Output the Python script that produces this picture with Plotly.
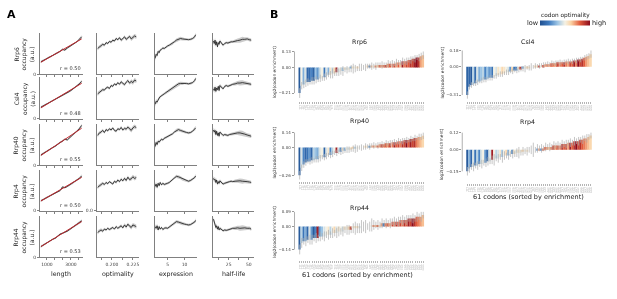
import numpy as np
import plotly.graph_objects as go

W, H = 617, 299
FONT = "DejaVu Sans"

# ---------------- Panel A data ----------------
PROTEINS = ["Rrp6", "Csl4", "Rrp40", "Rrp4", "Rrp44"]
R_VALUES = ["0.50", "0.48", "0.55", "0.50", "0.53"]
FEATURES = ["length", "optimality", "expression", "half-life"]

LENGTH_X = [500, 700, 900, 1100, 1300, 1500, 1700, 1900, 2100, 2300, 2500, 2700, 2900, 3100, 3300, 3500, 3700, 3900]
LEN_RRP6 = [0.30, 0.33, 0.36, 0.40, 0.42, 0.45, 0.49, 0.52, 0.55, 0.60, 0.58, 0.63, 0.67, 0.69, 0.74, 0.78, 0.84, 0.90]
LEN_CSL4 = [0.28, 0.31, 0.35, 0.37, 0.41, 0.44, 0.47, 0.49, 0.53, 0.56, 0.60, 0.62, 0.66, 0.70, 0.74, 0.79, 0.84, 0.90]
LEN_RRP40 = [0.25, 0.29, 0.33, 0.35, 0.40, 0.43, 0.46, 0.51, 0.55, 0.58, 0.63, 0.61, 0.66, 0.72, 0.76, 0.81, 0.88, 0.96]
LEN_RRP4 = [0.25, 0.28, 0.32, 0.35, 0.38, 0.41, 0.45, 0.47, 0.50, 0.59, 0.57, 0.60, 0.64, 0.67, 0.71, 0.76, 0.80, 0.86]
LEN_RRP44 = [0.26, 0.30, 0.33, 0.37, 0.41, 0.44, 0.46, 0.51, 0.56, 0.58, 0.60, 0.63, 0.67, 0.71, 0.75, 0.80, 0.84, 0.88]
LEN_ERR = [0.03, 0.02, 0.02, 0.02, 0.02, 0.02, 0.02, 0.02, 0.02, 0.02, 0.02, 0.02, 0.02, 0.02, 0.02, 0.02, 0.03, 0.04]

OPT_X = [0.183, 0.185, 0.187, 0.189, 0.191, 0.193, 0.195, 0.197, 0.199, 0.201, 0.203, 0.205,
         0.207, 0.209, 0.211, 0.213, 0.215, 0.217, 0.219, 0.221, 0.223, 0.225, 0.227, 0.229]
OPT_RRP6 = [0.62, 0.66, 0.68, 0.72, 0.70, 0.76, 0.74, 0.79, 0.77, 0.82, 0.80, 0.86, 0.83, 0.88, 0.82, 0.85, 0.90, 0.84, 0.87, 0.91, 0.85, 0.88, 0.92, 0.90]
OPT_CSL4 = [0.60, 0.64, 0.67, 0.70, 0.69, 0.74, 0.76, 0.73, 0.80, 0.78, 0.84, 0.81, 0.87, 0.83, 0.89, 0.85, 0.82, 0.88, 0.92, 0.86, 0.90, 0.87, 0.93, 0.91]
OPT_RRP40 = [0.72, 0.78, 0.80, 0.84, 0.79, 0.86, 0.83, 0.88, 0.85, 0.90, 0.84, 0.82, 0.88, 0.86, 0.91, 0.85, 0.89, 0.87, 0.92, 0.88, 0.84, 0.90, 0.93, 0.91]
OPT_RRP4 = [0.58, 0.62, 0.64, 0.68, 0.65, 0.70, 0.67, 0.72, 0.69, 0.66, 0.73, 0.70, 0.76, 0.72, 0.78, 0.74, 0.80, 0.75, 0.83, 0.77, 0.79, 0.84, 0.80, 0.82]
OPT_RRP44 = [0.60, 0.64, 0.66, 0.63, 0.68, 0.66, 0.70, 0.67, 0.69, 0.72, 0.68, 0.74, 0.70, 0.73, 0.76, 0.71, 0.78, 0.73, 0.80, 0.75, 0.72, 0.78, 0.76, 0.74]
OPT_ERR = [0.05, 0.04, 0.04, 0.04, 0.03, 0.03, 0.03, 0.03, 0.03, 0.03, 0.03, 0.03, 0.03, 0.03, 0.04, 0.03, 0.04, 0.04, 0.04, 0.04, 0.05, 0.05, 0.05, 0.05]

EXPR_X = [1.3, 1.6, 1.9, 2.2, 2.5, 2.8, 3.2, 3.6, 4.0, 4.5, 5.0, 5.5, 6.0, 6.5, 7.0, 7.6, 8.2, 8.8, 9.4, 10.0, 10.6, 11.2, 11.8, 12.4, 13.0, 13.3]
EXPR_RRP6 = [0.38, 0.48, 0.45, 0.55, 0.52, 0.58, 0.60, 0.63, 0.62, 0.66, 0.68, 0.70, 0.72, 0.74, 0.78, 0.82, 0.85, 0.86, 0.85, 0.84, 0.84, 0.83, 0.84, 0.86, 0.90, 0.95]
EXPR_CSL4 = [0.35, 0.42, 0.40, 0.48, 0.50, 0.53, 0.56, 0.58, 0.60, 0.63, 0.66, 0.68, 0.70, 0.73, 0.76, 0.80, 0.84, 0.85, 0.85, 0.86, 0.85, 0.84, 0.85, 0.87, 0.92, 0.97]
EXPR_RRP40 = [0.45, 0.55, 0.50, 0.58, 0.56, 0.60, 0.63, 0.61, 0.65, 0.67, 0.69, 0.71, 0.73, 0.76, 0.80, 0.84, 0.86, 0.84, 0.82, 0.80, 0.79, 0.78, 0.79, 0.82, 0.86, 0.90]
EXPR_RRP4 = [0.60, 0.66, 0.58, 0.68, 0.62, 0.70, 0.64, 0.68, 0.65, 0.66, 0.68, 0.70, 0.74, 0.78, 0.82, 0.85, 0.84, 0.82, 0.78, 0.76, 0.74, 0.73, 0.75, 0.78, 0.82, 0.86]
EXPR_RRP44 = [0.74, 0.70, 0.76, 0.66, 0.74, 0.68, 0.72, 0.67, 0.70, 0.71, 0.70, 0.73, 0.75, 0.79, 0.83, 0.86, 0.85, 0.83, 0.81, 0.80, 0.79, 0.78, 0.79, 0.82, 0.85, 0.89]
EXPR_ERR = [0.06, 0.05, 0.05, 0.04, 0.04, 0.03, 0.03, 0.03, 0.03, 0.03, 0.03, 0.03, 0.03, 0.03, 0.03, 0.04, 0.04, 0.04, 0.04, 0.03, 0.03, 0.03, 0.03, 0.03, 0.04, 0.05]

HL_X = [6, 7, 8, 9, 10, 11, 12, 13, 14, 16, 18, 20, 22, 24, 26, 28, 30, 33, 36, 39, 42, 45, 48, 51, 53]
HL_RRP6 = [0.80, 0.74, 0.82, 0.70, 0.78, 0.66, 0.76, 0.72, 0.80, 0.74, 0.70, 0.74, 0.76, 0.75, 0.77, 0.78, 0.78, 0.80, 0.81, 0.82, 0.84, 0.84, 0.85, 0.83, 0.82]
HL_CSL4 = [0.72, 0.68, 0.76, 0.66, 0.74, 0.70, 0.78, 0.68, 0.80, 0.76, 0.72, 0.78, 0.80, 0.78, 0.80, 0.82, 0.83, 0.84, 0.86, 0.86, 0.87, 0.86, 0.85, 0.84, 0.83]
HL_RRP40 = [0.85, 0.80, 0.84, 0.74, 0.82, 0.72, 0.78, 0.70, 0.80, 0.75, 0.72, 0.74, 0.73, 0.72, 0.74, 0.75, 0.76, 0.77, 0.78, 0.78, 0.77, 0.75, 0.73, 0.72, 0.70]
HL_RRP4 = [0.80, 0.76, 0.78, 0.70, 0.76, 0.66, 0.72, 0.68, 0.74, 0.70, 0.66, 0.68, 0.70, 0.71, 0.72, 0.73, 0.72, 0.73, 0.74, 0.74, 0.73, 0.73, 0.72, 0.71, 0.70]
HL_RRP44 = [0.92, 0.84, 0.80, 0.72, 0.76, 0.68, 0.74, 0.66, 0.70, 0.68, 0.64, 0.66, 0.65, 0.66, 0.68, 0.69, 0.70, 0.70, 0.71, 0.70, 0.71, 0.71, 0.70, 0.70, 0.68]
HL_ERR = [0.06, 0.06, 0.05, 0.05, 0.05, 0.04, 0.04, 0.04, 0.04, 0.03, 0.03, 0.03, 0.03, 0.03, 0.03, 0.03, 0.03, 0.04, 0.05, 0.06, 0.06, 0.05, 0.04, 0.04, 0.04]

# ---------------- Panel B data ----------------
CODONS = ["TTT", "TTC", "TTA", "TTG", "CTT", "CTC", "CTA", "CTG", "ATT", "ATC", "ATA", "ATG", "GTT", "GTC", "GTA", "GTG",
          "TCT", "TCC", "TCA", "TCG", "CCT", "CCC", "CCA", "CCG", "ACT", "ACC", "ACA", "ACG", "GCT", "GCC", "GCA", "GCG",
          "TAT", "TAC", "CAT", "CAC", "CAA", "CAG", "AAT", "AAC", "AAA", "AAG", "GAT", "GAC", "GAA", "GAG",
          "TGT", "TGC", "TGG", "CGT", "CGC", "CGA", "CGG", "AGT", "AGC", "AGA", "AGG", "GGT", "GGC", "GGA", "GGG"]

ENR_RRP6 = [-0.21, -0.15, -0.14, -0.13, -0.12, -0.12, -0.11, -0.11, -0.10, -0.10,
            -0.09, -0.09, -0.08, -0.07, -0.06, -0.06, -0.05, -0.05, -0.04, -0.04,
            -0.03, -0.03, -0.02, -0.02, -0.02, -0.01, -0.01, -0.01, -0.01, 0.00,
            0.00, 0.00, 0.00, 0.01, 0.01, 0.01, 0.01, 0.01, 0.02, 0.02,
            0.02, 0.02, 0.02, 0.03, 0.03, 0.03, 0.03, 0.04, 0.04, 0.04,
            0.05, 0.05, 0.05, 0.06, 0.06, 0.07, 0.07, 0.08, 0.08, 0.09,
            0.10]
ERR_RRP6 = [0.04, 0.03, 0.03, 0.03, 0.03, 0.02, 0.03, 0.03, 0.03, 0.02,
            0.03, 0.02, 0.03, 0.03, 0.02, 0.03, 0.04, 0.02, 0.03, 0.03,
            0.03, 0.04, 0.02, 0.03, 0.02, 0.03, 0.04, 0.03, 0.02, 0.03,
            0.03, 0.02, 0.03, 0.02, 0.02, 0.03, 0.02, 0.03, 0.02, 0.02,
            0.03, 0.02, 0.02, 0.03, 0.02, 0.03, 0.02, 0.03, 0.02, 0.02,
            0.03, 0.02, 0.03, 0.02, 0.03, 0.02, 0.03, 0.02, 0.03, 0.03,
            0.03]
OPTI_RRP6 = [0.05, 0.50, 0.30, 0.45, 0.10, 0.12, 0.20, 0.08, 0.35, 0.25,
             0.40, 0.50, 0.15, 0.45, 0.30, 0.55, 0.40, 0.60, 0.97, 0.45,
             0.50, 0.35, 0.55, 0.45, 0.50, 0.30, 0.55, 0.50, 0.60, 0.45,
             0.55, 0.20, 0.50, 0.60, 0.15, 0.65, 0.50, 0.75, 0.60, 0.80,
             0.70, 0.75, 0.85, 0.70, 0.80, 0.75, 0.85, 0.70, 0.80, 0.65,
             0.95, 0.75, 0.85, 0.80, 0.90, 0.85, 0.95, 1.00, 0.90, 0.70,
             0.65]
TICKS_RRP6 = [-0.21, 0.00, 0.13]

ENR_CSL4 = [-0.31, -0.22, -0.20, -0.19, -0.18, -0.17, -0.16, -0.15, -0.14, -0.14,
            -0.13, -0.12, -0.12, -0.11, -0.10, -0.09, -0.08, -0.08, -0.07, -0.06,
            -0.06, -0.05, -0.05, -0.04, -0.04, -0.03, -0.03, -0.02, -0.02, -0.01,
            -0.01, 0.00, 0.00, 0.01, 0.01, 0.01, 0.02, 0.02, 0.03, 0.03,
            0.03, 0.04, 0.04, 0.04, 0.05, 0.05, 0.05, 0.05, 0.06, 0.06,
            0.06, 0.06, 0.07, 0.07, 0.08, 0.08, 0.09, 0.10, 0.11, 0.12,
            0.14]
ERR_CSL4 = [0.04, 0.03, 0.03, 0.02, 0.03, 0.03, 0.02, 0.03, 0.03, 0.03,
            0.02, 0.03, 0.03, 0.02, 0.03, 0.02, 0.03, 0.03, 0.02, 0.03,
            0.03, 0.02, 0.03, 0.02, 0.03, 0.03, 0.02, 0.03, 0.04, 0.02,
            0.03, 0.04, 0.02, 0.03, 0.02, 0.03, 0.02, 0.03, 0.02, 0.03,
            0.02, 0.03, 0.02, 0.03, 0.02, 0.03, 0.02, 0.03, 0.02, 0.03,
            0.02, 0.03, 0.02, 0.03, 0.02, 0.03, 0.02, 0.03, 0.03, 0.03,
            0.04]
OPTI_CSL4 = [0.08, 0.10, 0.05, 0.40, 0.12, 0.45, 0.30, 0.35, 0.40, 0.20,
             0.35, 0.25, 0.15, 0.50, 0.45, 0.55, 0.50, 0.60, 0.55, 0.50,
             0.45, 0.25, 0.60, 0.15, 0.20, 0.55, 0.90, 0.30, 0.50, 0.60,
             0.55, 0.40, 0.50, 0.60, 0.55, 0.90, 0.50, 0.85, 0.70, 0.75,
             0.70, 0.80, 0.75, 0.70, 0.85, 0.75, 0.80, 0.90, 0.75, 0.70,
             0.85, 0.80, 0.95, 0.75, 1.00, 0.85, 0.90, 0.80, 0.70, 0.65,
             0.60]
TICKS_CSL4 = [-0.31, 0.00, 0.18]

ENR_RRP40 = [-0.26, -0.19, -0.16, -0.14, -0.13, -0.13, -0.12, -0.12, -0.11, -0.11,
             -0.10, -0.09, -0.09, -0.08, -0.07, -0.07, -0.06, -0.05, -0.05, -0.04,
             -0.04, -0.03, -0.03, -0.02, -0.02, -0.02, -0.01, -0.01, -0.01, 0.00,
             0.00, 0.00, 0.01, 0.01, 0.01, 0.02, 0.02, 0.02, 0.02, 0.03,
             0.03, 0.03, 0.04, 0.04, 0.04, 0.05, 0.05, 0.05, 0.06, 0.06,
             0.06, 0.07, 0.07, 0.07, 0.08, 0.08, 0.09, 0.09, 0.10, 0.10,
             0.11]
ERR_RRP40 = [0.04, 0.03, 0.03, 0.03, 0.02, 0.03, 0.03, 0.02, 0.03, 0.03,
             0.03, 0.02, 0.03, 0.03, 0.02, 0.03, 0.03, 0.02, 0.03, 0.02,
             0.03, 0.03, 0.02, 0.03, 0.03, 0.02, 0.03, 0.04, 0.03, 0.02,
             0.03, 0.02, 0.03, 0.02, 0.03, 0.02, 0.03, 0.02, 0.03, 0.02,
             0.03, 0.02, 0.03, 0.02, 0.03, 0.02, 0.03, 0.02, 0.03, 0.02,
             0.03, 0.02, 0.03, 0.02, 0.03, 0.02, 0.03, 0.02, 0.03, 0.03,
             0.03]
OPTI_RRP40 = [0.05, 0.45, 0.20, 0.10, 0.15, 0.25, 0.10, 0.40, 0.35, 0.30,
              0.45, 0.50, 0.08, 0.45, 0.55, 0.20, 0.40, 0.50, 0.95, 0.45,
              0.20, 0.55, 0.30, 0.50, 0.45, 0.55, 0.60, 0.40, 0.50, 0.45,
              0.55, 0.30, 0.60, 0.50, 0.20, 0.65, 0.75, 0.60, 0.80, 0.70,
              0.85, 0.75, 0.80, 0.70, 0.85, 0.75, 0.95, 0.80, 0.85, 0.75,
              0.90, 0.85, 1.00, 0.80, 0.95, 0.85, 0.90, 0.75, 0.70, 0.65,
              0.60]
TICKS_RRP40 = [-0.26, 0.00, 0.14]

ENR_RRP4 = [-0.15, -0.13, -0.12, -0.12, -0.11, -0.11, -0.10, -0.10, -0.09, -0.09,
            -0.08, -0.08, -0.07, -0.07, -0.06, -0.06, -0.05, -0.05, -0.04, -0.04,
            -0.04, -0.03, -0.03, -0.03, -0.02, -0.02, -0.02, -0.01, -0.01, -0.01,
            0.00, 0.00, 0.00, 0.00, 0.01, 0.01, 0.01, 0.01, 0.02, 0.02,
            0.02, 0.02, 0.03, 0.03, 0.03, 0.03, 0.04, 0.04, 0.04, 0.05,
            0.05, 0.05, 0.06, 0.06, 0.06, 0.07, 0.07, 0.08, 0.08, 0.09,
            0.10]
ERR_RRP4 = [0.03, 0.03, 0.02, 0.03, 0.02, 0.03, 0.02, 0.03, 0.02, 0.03,
            0.03, 0.02, 0.03, 0.04, 0.02, 0.03, 0.02, 0.04, 0.03, 0.02,
            0.03, 0.02, 0.03, 0.02, 0.03, 0.04, 0.02, 0.03, 0.02, 0.03,
            0.02, 0.03, 0.05, 0.02, 0.03, 0.02, 0.03, 0.02, 0.03, 0.02,
            0.03, 0.02, 0.03, 0.02, 0.03, 0.02, 0.03, 0.02, 0.03, 0.02,
            0.03, 0.02, 0.03, 0.02, 0.03, 0.02, 0.03, 0.02, 0.03, 0.02,
            0.02]
OPTI_RRP4 = [0.05, 0.30, 0.10, 0.45, 0.15, 0.40, 0.20, 0.45, 0.50, 0.25,
             0.10, 0.45, 0.95, 0.50, 0.40, 0.45, 0.55, 0.35, 0.50, 0.60,
             0.30, 0.50, 0.20, 0.55, 0.45, 0.55, 0.50, 0.60, 0.50, 0.55,
             0.45, 0.60, 0.50, 0.65, 0.25, 0.70, 0.20, 0.75, 0.80, 0.70,
             0.65, 0.75, 0.85, 0.70, 0.80, 0.75, 0.90, 0.80, 0.85, 0.70,
             0.95, 0.80, 0.90, 1.00, 0.85, 0.90, 0.80, 0.75, 0.70, 0.65,
             0.60]
TICKS_RRP4 = [-0.15, 0.00, 0.12]

ENR_RRP44 = [-0.14, -0.10, -0.09, -0.09, -0.08, -0.08, -0.08, -0.07, -0.07, -0.07,
             -0.06, -0.06, -0.06, -0.05, -0.05, -0.05, -0.04, -0.04, -0.04, -0.03,
             -0.03, -0.03, -0.02, -0.02, -0.02, -0.02, -0.01, -0.01, -0.01, -0.01,
             0.00, 0.00, 0.00, 0.00, 0.00, 0.01, 0.01, 0.01, 0.01, 0.01,
             0.02, 0.02, 0.02, 0.02, 0.02, 0.03, 0.03, 0.03, 0.03, 0.04,
             0.04, 0.04, 0.04, 0.05, 0.05, 0.05, 0.05, 0.06, 0.06, 0.06,
             0.07]
ERR_RRP44 = [0.03, 0.03, 0.02, 0.03, 0.02, 0.03, 0.03, 0.02, 0.03, 0.02,
             0.03, 0.02, 0.03, 0.02, 0.03, 0.02, 0.03, 0.02, 0.03, 0.03,
             0.02, 0.03, 0.02, 0.03, 0.03, 0.02, 0.03, 0.04, 0.03, 0.03,
             0.04, 0.03, 0.04, 0.02, 0.03, 0.04, 0.03, 0.02, 0.03, 0.02,
             0.03, 0.02, 0.03, 0.02, 0.03, 0.02, 0.03, 0.02, 0.03, 0.02,
             0.03, 0.02, 0.03, 0.02, 0.02, 0.03, 0.02, 0.03, 0.02, 0.03,
             0.02]
OPTI_RRP44 = [0.05, 0.40, 0.15, 0.30, 0.10, 0.45, 0.25, 0.05, 0.20, 0.95,
              0.25, 0.35, 0.45, 0.50, 0.55, 0.40, 0.50, 0.60, 0.45, 0.55,
              0.50, 0.45, 0.55, 0.50, 0.60, 0.85, 0.50, 0.55, 0.60, 0.45,
              0.65, 0.55, 0.20, 0.60, 0.70, 0.50, 0.75, 0.65, 0.80, 0.55,
              0.70, 0.15, 0.75, 0.80, 0.70, 0.85, 0.75, 0.90, 0.80, 0.85,
              0.75, 0.90, 0.80, 0.95, 0.85, 1.00, 0.90, 0.80, 0.75, 0.70,
              0.65]
TICKS_RRP44 = [-0.14, 0.00, 0.09]

# ---------------- helpers ----------------
def fx(x):
    return x / W


def fy(y):
    return 1 - y / H


def axn(i, kind):
    return f"{kind}axis" + ("" if i == 1 else str(i))


def rf(i, kind):
    return kind + ("" if i == 1 else str(i))


AXIS_COLOR = "#808080"
traces, annotations, shapes = [], [], []
layout_axes = {}


def ann(text, x, y, size, color="#222", **kw):
    d = dict(xref="paper", yref="paper", showarrow=False, text=text, x=fx(x), y=fy(y),
             xanchor="center", yanchor="middle", borderpad=0,
             font=dict(family=FONT, size=size, color=color))
    d.update(kw)
    annotations.append(d)


# ---------------- Panel A ----------------
A_SERIES = [
    [LEN_RRP6, OPT_RRP6, EXPR_RRP6, HL_RRP6],
    [LEN_CSL4, OPT_CSL4, EXPR_CSL4, HL_CSL4],
    [LEN_RRP40, OPT_RRP40, EXPR_RRP40, HL_RRP40],
    [LEN_RRP4, OPT_RRP4, EXPR_RRP4, HL_RRP4],
    [LEN_RRP44, OPT_RRP44, EXPR_RRP44, HL_RRP44],
]
A_X = [LENGTH_X, OPT_X, EXPR_X, HL_X]
A_ERR = [LEN_ERR, OPT_ERR, EXPR_ERR, HL_ERR]

COLS_PX = [(40, 83), (97, 139), (155, 197), (213, 254)]
ROWS_PX = [(33, 75), (78, 120), (125, 167), (172, 213), (218, 260)]
X_RANGES = [[420, 4000], [0.182, 0.232], [1.2, 13.6], [5, 56]]
X_TICKS = [[1000, 1667, 2333, 3000, 3667], [0.1875, 0.2, 0.2125, 0.225], [5, 10], [12.5, 25, 37.5, 50]]
X_TICKTEXT = [["1000", "", "", "3000", ""], ["", "0.200", "", "0.225"], ["5", "10"], ["", "25", "", "50"]]

for r in range(5):
    for c in range(4):
        idx = r * 4 + c + 1
        x0, x1 = COLS_PX[c]
        y0, y1 = ROWS_PX[r]
        last = r == 4
        layout_axes[axn(idx, "x")] = dict(
            domain=[fx(x0), fx(x1)], range=X_RANGES[c], anchor=rf(idx, "y"),
            tickmode="array", tickvals=X_TICKS[c],
            ticktext=X_TICKTEXT[c] if last else [""] * len(X_TICKS[c]),
            ticks="outside", ticklen=2, tickwidth=0.8, tickcolor=AXIS_COLOR,
            showline=True, linecolor=AXIS_COLOR, linewidth=1, showgrid=False, zeroline=False,
            tickfont=dict(family=FONT, size=4.5, color="#444"),
        )
        ytv, ytt = [], []
        if c == 0:
            ytv, ytt = [0], ["0"]
        if r == 3 and c == 1:
            ytv, ytt = [0], ["0.0"]
        layout_axes[axn(idx, "y")] = dict(
            domain=[fy(y1), fy(y0)], range=[0, 1.0], anchor=rf(idx, "x"),
            tickmode="array", tickvals=ytv, ticktext=ytt,
            ticks="outside" if ytv else "", ticklen=2, tickwidth=0.8, tickcolor=AXIS_COLOR,
            showline=True, linecolor=AXIS_COLOR, linewidth=1, showgrid=False, zeroline=False,
            tickfont=dict(family=FONT, size=4.5, color="#444"),
        )
        xs = np.array(A_X[c], dtype=float)
        ys = np.array(A_SERIES[r][c], dtype=float)
        es = np.array(A_ERR[c], dtype=float)
        xa, ya = rf(idx, "x"), rf(idx, "y")
        traces.append(go.Scatter(x=xs, y=ys + es, mode="lines", line=dict(width=0),
                                 xaxis=xa, yaxis=ya, hoverinfo="skip", showlegend=False))
        traces.append(go.Scatter(x=xs, y=ys - es, mode="lines", line=dict(width=0), fill="tonexty",
                                 fillcolor="rgba(185,185,185,0.75)",
                                 xaxis=xa, yaxis=ya, hoverinfo="skip", showlegend=False))
        traces.append(go.Scatter(x=xs, y=ys, mode="lines", line=dict(color="#2a2a2a", width=0.9),
                                 xaxis=xa, yaxis=ya, showlegend=False))
        if c == 0:
            k, b = np.polyfit(xs, ys, 1)
            fit_x = np.array([xs.min(), xs.max()])
            traces.append(go.Scatter(x=fit_x, y=k * fit_x + b, mode="lines",
                                     line=dict(color="#c0272d", width=1),
                                     xaxis=xa, yaxis=ya, showlegend=False))
            ann(f"r = {R_VALUES[r]}", 71, y1 - 6, 5, color="#333")
    ann(f"{PROTEINS[r]}<br>occupancy<br>(a.u.)", 24, (ROWS_PX[r][0] + ROWS_PX[r][1]) / 2, 6,
        textangle=-90)

for c in range(4):
    ann(FEATURES[c], (COLS_PX[c][0] + COLS_PX[c][1]) / 2, 276.5, 6.3)

ann("<b>A</b>", 12, 15, 11, color="#000")
ann("<b>B</b>", 274, 15, 11, color="#000")

# ---------------- Panel B ----------------
CSCALE = [[0.0, "#1f4f8f"], [0.18, "#3f7bbf"], [0.35, "#9cc4e4"], [0.5, "#f4f1e4"],
          [0.62, "#fbd3a4"], [0.8, "#e15b3c"], [1.0, "#8a0a1c"]]

B_CHARTS = [
    ("Rrp6", ENR_RRP6, ERR_RRP6, OPTI_RRP6, TICKS_RRP6, (295, 426), (52, 94), (44, 102), 42),
    ("Csl4", ENR_CSL4, ERR_CSL4, OPTI_CSL4, TICKS_CSL4, (463, 594), (51, 96), (44, 102), 42),
    ("Rrp40", ENR_RRP40, ERR_RRP40, OPTI_RRP40, TICKS_RRP40, (295, 426), (134, 177), (126, 183), 122),
    ("Rrp4", ENR_RRP4, ERR_RRP4, OPTI_RRP4, TICKS_RRP4, (463, 594), (134, 173), (126, 185), 123),
    ("Rrp44", ENR_RRP44, ERR_RRP44, OPTI_RRP44, TICKS_RRP44, (295, 426), (214, 252), (206, 263), 210),
]

for k, (name, enr, err, opti, ticks, xdom, tick_px, ydom, title_y) in enumerate(B_CHARTS):
    idx = 21 + k
    tmin, tmax = ticks[0], ticks[-1]
    scale = (tick_px[1] - tick_px[0]) / (tmax - tmin)
    zero_px = tick_px[0] + tmax * scale
    yr = [-(ydom[1] - zero_px) / scale, (zero_px - ydom[0]) / scale]
    xa, ya = rf(idx, "x"), rf(idx, "y")
    pos = list(range(len(enr)))
    marker = dict(color=opti, colorscale=CSCALE, cmin=0, cmax=1, line=dict(width=0))
    if k == 0:
        marker.update(showscale=True, colorbar=dict(
            orientation="h", lenmode="pixels", len=50, thickness=5,
            x=fx(566), xanchor="center", y=fy(23.5), yanchor="middle",
            showticklabels=False, ticks="", outlinewidth=0, xpad=0, ypad=0))
    traces.append(go.Bar(x=pos, y=enr, width=0.8, marker=marker,
                         error_y=dict(type="data", array=err, color="#adadad", thickness=0.7, width=0),
                         xaxis=xa, yaxis=ya, showlegend=False))
    layout_axes[axn(idx, "x")] = dict(
        domain=[fx(xdom[0]), fx(xdom[1])], range=[-2.5, 61], anchor=ya,
        tickmode="array", tickvals=pos, ticktext=CODONS[:len(pos)], tickangle=-90,
        ticks="outside", ticklen=2, tickwidth=0.6, tickcolor="#b5b5b5",
        showline=False, showgrid=False, zeroline=False,
        tickfont=dict(family=FONT, size=2.6, color="#b0b0b0"),
    )
    layout_axes[axn(idx, "y")] = dict(
        domain=[fy(ydom[1]), fy(ydom[0])], range=yr, anchor=xa,
        tickmode="array", tickvals=ticks,
        ticktext=[f"{v:.2f}".replace("-", "\u2212") for v in ticks],
        ticks="outside", ticklen=2, tickwidth=0.6, tickcolor="#999",
        showline=False, showgrid=False, zeroline=False,
        tickfont=dict(family=FONT, size=4, color="#444"),
    )
    shapes.append(dict(type="line", xref=f"{xa} domain", yref=ya, x0=0, x1=0, y0=tmin, y1=tmax,
                       line=dict(color="#999", width=0.8)))
    ann(name, (xdom[0] + xdom[1]) / 2, title_y, 6.3)
    ann("log2(codon enrichment)", xdom[0] - 20, (ydom[0] + ydom[1]) / 2, 4.3, textangle=-90)

ann("61 codons (sorted by enrichment)", 529, 199, 6.5)
ann("61 codons (sorted by enrichment)", 358, 278, 6.5)
ann("codon optimality", 566, 16, 5.8)
ann("low", 534, 23.5, 6.5)
ann("high", 600, 23.5, 6.5)

fig = go.Figure(data=traces)
fig.update_layout(
    width=W, height=H, margin=dict(l=0, r=0, t=0, b=0),
    paper_bgcolor="white", plot_bgcolor="white",
    font=dict(family=FONT), showlegend=False, bargap=0.2,
    annotations=annotations, shapes=shapes, **layout_axes,
)
POST = (
    "document.body.style.margin='0';"
    "document.body.style.overflow='hidden';"
    "document.querySelectorAll('.main-svg').forEach(function(s){s.style.willChange='transform';});"
)
fig.write_html("out.html", config={"displayModeBar": False}, post_script=POST)
